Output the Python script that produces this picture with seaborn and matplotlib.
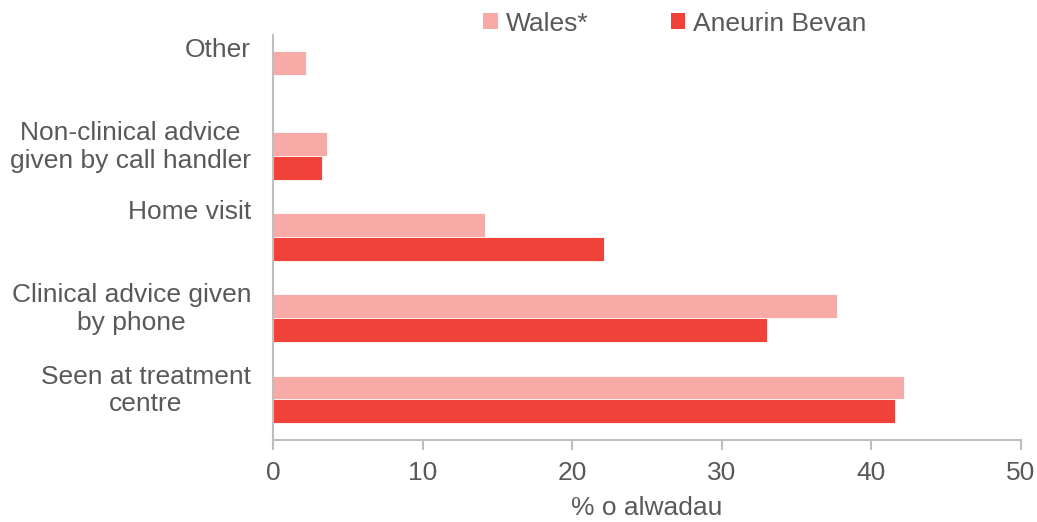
import matplotlib
matplotlib.use("Agg")
import matplotlib.pyplot as plt
import seaborn as sns
import pandas as pd
from matplotlib.patches import Patch

# Outcome categories (top to bottom) and percentage of calls per area
categories = [
    "Other",
    "Non-clinical advice\ngiven by call handler",
    "Home visit",
    "Clinical advice given\nby phone",
    "Seen at treatment\ncentre",
]
wales = [2.2, 3.6, 14.2, 37.7, 42.2]
aneurin_bevan = [0.0, 3.3, 22.1, 33.0, 41.6]
series_names = ["Wales*", "Aneurin Bevan"]
x_ticks = [0, 10, 20, 30, 40, 50]

df = pd.DataFrame({
    "category": categories * 2,
    "value": wales + aneurin_bevan,
    "series": [series_names[0]] * len(categories) + [series_names[1]] * len(categories),
})

sns.set_theme(style="white")
plt.rcParams["font.family"] = ["Liberation Sans", "DejaVu Sans"]
text_color = "#595959"
axis_color = "#BFBFBF"
fs = 19
palette = {series_names[0]: "#F7AAA6", series_names[1]: "#F04238"}

fig = plt.figure(figsize=(10.37, 5.22), dpi=100)
ax = fig.add_axes([273 / 1037, 1 - 440 / 522, (1021 - 273) / 1037, (440 - 34.5) / 522])

sns.barplot(
    data=df, x="value", y="category", hue="series",
    order=categories, hue_order=series_names, palette=palette,
    orient="h", width=0.59, dodge=True, saturation=1, ax=ax,
    edgecolor="white", linewidth=0.6, legend=False,
)

ax.set_xlim(0, 50)
ax.set_ylim(4.5, -0.5)
ax.set_xticks(x_ticks)
ax.set_xticklabels([str(t) for t in x_ticks])
ax.set_xlabel("% o alwadau", fontsize=fs, color=text_color, labelpad=8)
ax.set_ylabel("")

for side in ("top", "right"):
    ax.spines[side].set_visible(False)
for side in ("left", "bottom"):
    ax.spines[side].set_color(axis_color)
    ax.spines[side].set_linewidth(1.5)

ax.tick_params(axis="x", which="major", direction="out", length=7, width=1.5,
               color=axis_color, labelsize=fs, labelcolor=text_color, pad=8, bottom=True)

# Category labels: centred lines, sitting slightly above each group's centre
ax.set_yticks(range(len(categories)))
ax.set_yticklabels([])
ax.tick_params(axis="y", length=0)
for i, name in enumerate(categories):
    lift = 9 if "\n" in name else 25
    ax.annotate(
        name, xy=(0, i), xycoords=("axes fraction", "data"),
        xytext=(-22, lift), textcoords="offset pixels",
        ha="right", va="center", multialignment="center",
        fontsize=fs, color=text_color, linespacing=1.2,
    )

handles = [Patch(facecolor=palette[n], edgecolor="none", label=n) for n in series_names]
fig.legend(
    handles=handles, loc="upper center", bbox_to_anchor=(675 / 1037, 1.023), ncol=2,
    frameon=False, fontsize=fs, labelcolor=text_color, handlelength=0.56,
    handleheight=0.56, handletextpad=0.3, columnspacing=3.1,
)

fig.savefig("out.png", dpi=100)
